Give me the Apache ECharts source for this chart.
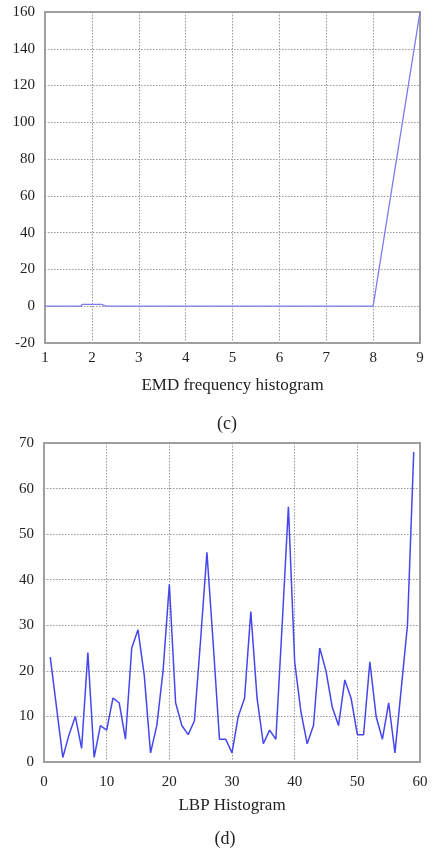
<!DOCTYPE html>
<html><head><meta charset="utf-8">
<script src="https://cdn.jsdelivr.net/npm/echarts@6/dist/echarts.min.js"></script>
<style>html,body{margin:0;padding:0;background:#fff}#c{width:435px;height:850px}</style>
</head><body><div id="c"></div>
<script>
// EMD frequency histogram (c)
const emdX = [1, 1.75, 1.8, 2.2, 2.3, 8, 9];
const emdY = [0, 0, 1, 1, 0, 0, 160];
const emdXTicks = [1, 2, 3, 4, 5, 6, 7, 8, 9];
const emdYTicks = [-20, 0, 20, 40, 60, 80, 100, 120, 140, 160];
// LBP Histogram (d), bins 1..59
const lbpX = [];
for (let i = 1; i <= 59; i++) lbpX.push(i);
const lbpY = [23,12,1,6,10,3,24,1,8,7,14,13,5,25,29,19,2,8,20,39,13,8,6,9,27,46,26,5,5,2,10,14,33,14,4,7,5,30,56,22,11,4,8,25,20,12,8,18,14,6,6,22,10,5,13,2,16,30,68];
const lbpXTicks = [0, 10, 20, 30, 40, 50, 60];
const lbpYTicks = [0, 10, 20, 30, 40, 50, 60, 70];

const font = 'Liberation Serif';
const gridLine = {show: true, lineStyle: {color: '#999999', type: [1.5, 1.5], width: 1}};
const frame = {show: true, onZero: false, lineStyle: {color: '#a0a0a0', width: 2}};
const lab = {fontFamily: font, fontSize: 15, color: '#222'};

const chart = echarts.init(document.getElementById('c'), null, {renderer: 'canvas'});
chart.setOption({
  animation: false,
  backgroundColor: '#fff',
  title: [
    {text: '(c)', left: 222, top: 410, textAlign: 'center', textStyle: {fontFamily: font, fontSize: 18, fontWeight: 'normal', color: '#222'}},
    {text: '(d)', left: 220, top: 825, textAlign: 'center', textStyle: {fontFamily: font, fontSize: 18, fontWeight: 'normal', color: '#222'}}
  ],
  grid: [
    {left: 45, top: 12, width: 375, height: 331, show: true, borderColor: '#a0a0a0', borderWidth: 2, backgroundColor: '#fff'},
    {left: 44, top: 443, width: 376, height: 319, show: true, borderColor: '#a0a0a0', borderWidth: 2, backgroundColor: '#fff'}
  ],
  xAxis: [
    {gridIndex: 0, type: 'value', min: emdXTicks[0], max: emdXTicks[emdXTicks.length-1], interval: 1,
     axisLine: frame, axisTick: {show: false}, splitLine: gridLine,
     axisLabel: Object.assign({margin: 8}, lab),
     name: 'EMD frequency histogram', nameLocation: 'middle', nameGap: 34,
     nameTextStyle: {fontFamily: font, fontSize: 17, color: '#222'}},
    {gridIndex: 1, type: 'value', min: lbpXTicks[0], max: lbpXTicks[lbpXTicks.length-1], interval: 10,
     axisLine: frame, axisTick: {show: false}, splitLine: gridLine,
     axisLabel: Object.assign({margin: 13}, lab),
     name: 'LBP Histogram', nameLocation: 'middle', nameGap: 35,
     nameTextStyle: {fontFamily: font, fontSize: 17, color: '#222'}}
  ],
  yAxis: [
    {gridIndex: 0, type: 'value', min: emdYTicks[0], max: emdYTicks[emdYTicks.length-1], interval: 20,
     axisLine: frame, axisTick: {show: false}, splitLine: gridLine,
     axisLabel: Object.assign({margin: 10}, lab)},
    {gridIndex: 1, type: 'value', min: lbpYTicks[0], max: lbpYTicks[lbpYTicks.length-1], interval: 10,
     axisLine: frame, axisTick: {show: false}, splitLine: gridLine,
     axisLabel: Object.assign({margin: 10}, lab)}
  ],
  series: [
    {type: 'line', xAxisIndex: 0, yAxisIndex: 0, showSymbol: false, symbol: 'none',
     lineStyle: {color: '#7b7bf0', width: 1.3},
     data: emdX.map((x, i) => [x, emdY[i]])},
    {type: 'line', xAxisIndex: 1, yAxisIndex: 1, showSymbol: false, symbol: 'none',
     lineStyle: {color: '#4646ee', width: 1.5},
     data: lbpX.map((x, i) => [x, lbpY[i]])}
  ]
});
</script>
</body></html>
